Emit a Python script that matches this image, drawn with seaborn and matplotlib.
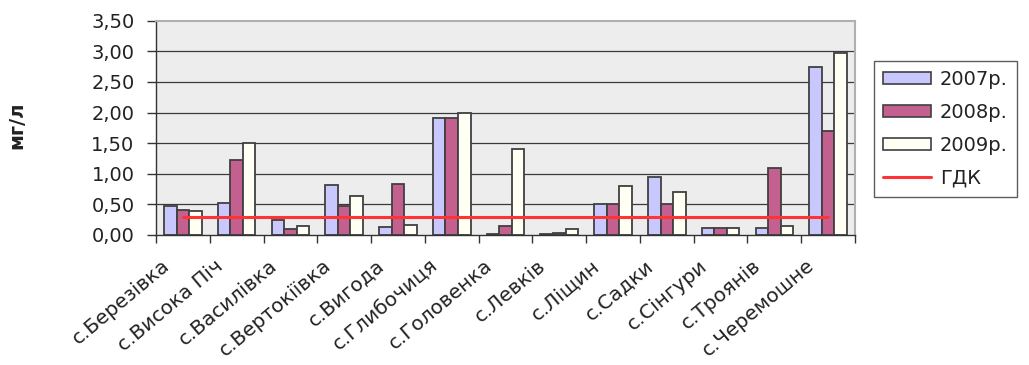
import matplotlib
matplotlib.use("Agg")
import matplotlib.pyplot as plt
import matplotlib.transforms as mtransforms
import seaborn as sns
import pandas as pd
import numpy as np
from matplotlib.patches import Patch
from matplotlib.lines import Line2D
from matplotlib.ticker import FuncFormatter, FixedLocator

villages = ["с.Березівка", "с.Висока Піч", "с.Василівка", "с.Вертокіївка", "с.Вигода",
            "с.Глибочиця", "с.Головенка", "с.Левків", "с.Ліщин", "с.Садки",
            "с.Сінгури", "с.Троянів", "с.Черемошне"]
v2007 = [0.47, 0.52, 0.25, 0.82, 0.13, 1.91, 0.02, 0.02, 0.50, 0.95, 0.11, 0.11, 2.75]
v2008 = [0.41, 1.22, 0.09, 0.47, 0.84, 1.91, 0.14, 0.04, 0.50, 0.50, 0.11, 1.09, 1.70]
v2009 = [0.39, 1.50, 0.14, 0.64, 0.16, 2.00, 1.41, 0.09, 0.80, 0.70, 0.11, 0.14, 2.98]
gdk = [0.3, 0.3, 0.3, 0.3, 0.3, 0.3, 0.3, 0.3, 0.3, 0.3, 0.3, 0.3, 0.3]
series_names = ["2007р.", "2008р.", "2009р."]
gdk_name = "ГДК"
y_label = "мг/л"

colors = {"2007р.": "#C8C8FF", "2008р.": "#C4608F", "2009р.": "#FFFFF4"}

sns.set_theme(style="white")
plt.rcParams['font.family'] = ['DejaVu Sans']

FS = 14
TXT = "#222222"

df = pd.DataFrame({
    "village": villages * 3,
    "year": [series_names[0]] * 13 + [series_names[1]] * 13 + [series_names[2]] * 13,
    "value": v2007 + v2008 + v2009,
})

fig = plt.figure(figsize=(10.29, 3.65), dpi=100)
ax = fig.add_axes([156 / 1029, 1 - 235 / 365, (855 - 156) / 1029, (235 - 20.7) / 365])
ax.set_facecolor("#EDEDED")

ax.set_axisbelow(True)
for yv in [0.5, 1.0, 1.5, 2.0, 2.5, 3.0]:
    ax.axhline(yv, color="#3A3A3A", lw=0.9, zorder=0.5)

sns.barplot(data=df, x="village", y="value", hue="year", palette=colors, width=0.7,
            edgecolor="#404040", linewidth=1.3, ax=ax, legend=False, saturation=1)

ax.plot(np.arange(len(villages)), gdk, color="#FF3333", lw=2.2, zorder=5)

ax.set_xlim(-0.5, len(villages) - 0.5)
ax.set_ylim(0, 3.5)
ax.set_yticks([0, 0.5, 1.0, 1.5, 2.0, 2.5, 3.0, 3.5])
ax.yaxis.set_major_formatter(FuncFormatter(lambda v, p: f"{v:.2f}".replace(".", ",")))
ax.tick_params(axis="y", which="major", direction="out", length=6.5, width=1, color="#333333",
               labelsize=FS, labelcolor=TXT, pad=9, left=True)

ax.set_xticks(np.arange(len(villages)))
ax.set_xticklabels(villages, rotation=40, ha="right", va="top", rotation_mode="anchor",
                   fontsize=14.4, color=TXT)
ax.tick_params(axis="x", which="major", length=0, pad=0)
offset = mtransforms.ScaledTranslation(-22 / 100, -21 / 100, fig.dpi_scale_trans)
for lbl in ax.get_xticklabels():
    lbl.set_transform(lbl.get_transform() + offset)
ax.xaxis.set_minor_locator(FixedLocator(np.arange(-0.5, len(villages), 1.0)))
ax.tick_params(axis="x", which="minor", direction="out", length=6, width=1, color="#333333",
               bottom=True)

ax.set_xlabel("")
ax.set_ylabel(y_label, fontsize=FS, fontweight="bold", color=TXT)
ax.yaxis.set_label_coords((26 - 156) / 699, (235 - 125) / 214.3)

for s in ["left", "bottom"]:
    ax.spines[s].set_color("#333333")
    ax.spines[s].set_linewidth(1.0)
for s in ["top", "right"]:
    ax.spines[s].set_color("#B0B0B0")
    ax.spines[s].set_linewidth(1.5)

handles = [Patch(facecolor=colors[n], edgecolor="#404040", linewidth=1.2) for n in series_names]
handles.append(Line2D([0], [0], color="#FF3333", lw=2.2))
leg = fig.legend(handles, series_names + [gdk_name], loc="upper left",
                 bbox_to_anchor=(874 / 1029, 1 - 61 / 365), borderaxespad=0,
                 fontsize=FS, frameon=True, fancybox=False, handlelength=2.5,
                 handleheight=0.62, labelspacing=0.72, handletextpad=0.45,
                 borderpad=0.45)
leg.get_frame().set_edgecolor("#333333")
leg.get_frame().set_linewidth(1.0)
for t in leg.get_texts():
    t.set_color(TXT)

fig.savefig("out.png", dpi=100)
